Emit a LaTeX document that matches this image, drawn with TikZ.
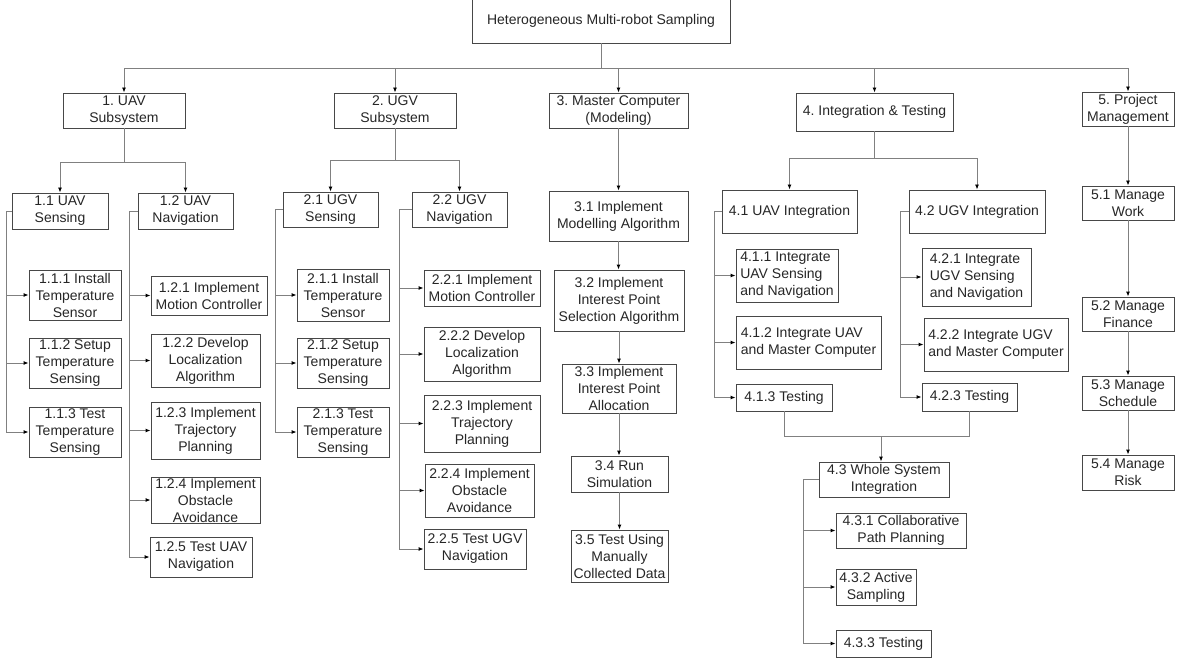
\documentclass[tikz,border=0pt]{standalone}
\usepackage{fontspec}
\setmainfont{Liberation Sans}
\usetikzlibrary{arrows.meta}
\frenchspacing
\newcommand\wbox[7][]{%
  \pgfmathsetmacro\cxx{(#3+#5)/2}\pgfmathsetmacro\cyy{(#4+#6)/2}%
  \pgfmathsetmacro\ww{#5-#3}\pgfmathsetmacro\hh{#6-#4}%
  \node[box,minimum width=\ww pt,minimum height=\hh pt,#1] (#2) at (\cxx,\cyy) {#7};}
\begin{document}
\begin{tikzpicture}[x=1pt,y=-1pt,
  box/.style={draw=black!72,line width=0.9pt,rectangle,inner sep=0pt,align=center,
    text=black!85,font=\fontsize{14}{17}\selectfont\frenchspacing},
  ln/.style={draw=black!50,line width=0.9pt},
  arr/.style={ln,-{Latex[length=5pt,width=4pt,color=black]}}]
\useasboundingbox (0,0) rectangle (1177,660);
% level 0/1
\wbox{root}{472}{-2}{730}{43}{Heterogeneous Multi-robot Sampling}
\wbox{n1}{63}{93}{185}{128}{1. UAV\\Subsystem}
\wbox{n2}{334}{93}{456}{128}{2. UGV\\Subsystem}
\wbox{n3}{549}{93}{688}{128}{3. Master Computer\\(Modeling)}
\wbox{n4}{796}{93}{953}{131}{4. Integration \& Testing}
\wbox{n5}{1082}{92}{1174}{126}{5. Project\\Management}
% UAV
\wbox{n11}{12}{193}{108}{229}{1.1 UAV\\Sensing}
\wbox{n12}{138}{193}{233}{229}{1.2 UAV\\Navigation}
\wbox{n111}{29}{270}{121}{320}{1.1.1 Install\\Temperature\\Sensor}
\wbox{n112}{29}{338}{121}{388}{1.1.2 Setup\\Temperature\\Sensing}
\wbox{n113}{29}{407}{121}{457}{1.1.3 Test\\Temperature\\Sensing}
\wbox{n121}{151}{276}{267}{315}{1.2.1 Implement\\Motion Controller}
\wbox{n122}{151}{334}{260}{387}{1.2.2 Develop\\Localization\\Algorithm}
\wbox{n123}{151}{402}{260}{459}{1.2.3 Implement\\Trajectory\\Planning}
\wbox{n124}{151}{477}{260}{523}{1.2.4 Implement\\Obstacle\\Avoidance}
\wbox{n125}{150}{537}{252}{577}{1.2.5 Test UAV\\Navigation}
% UGV
\wbox{n21}{283}{192}{378}{227}{2.1 UGV\\Sensing}
\wbox{n22}{412}{192}{507}{227}{2.2 UGV\\Navigation}
\wbox{n211}{297}{269}{389}{321}{2.1.1 Install\\Temperature\\Sensor}
\wbox{n212}{297}{338}{389}{388}{2.1.2 Setup\\Temperature\\Sensing}
\wbox{n213}{297}{407}{389}{457}{2.1.3 Test\\Temperature\\Sensing}
\wbox{n221}{424}{270}{540}{306}{2.2.1 Implement\\Motion Controller}
\wbox{n222}{424}{327}{540}{381}{2.2.2 Develop\\Localization\\Algorithm}
\wbox{n223}{424}{395}{540}{452}{2.2.3 Implement\\Trajectory\\Planning}
\wbox{n224}{425}{464}{534}{517}{2.2.4 Implement\\Obstacle\\Avoidance}
\wbox{n225}{424}{529}{526}{569}{2.2.5 Test UGV\\Navigation}
% Master
\wbox{n31}{549}{191}{688}{241}{3.1 Implement\\Modelling Algorithm}
\wbox{n32}{554}{270}{684}{331}{3.2 Implement\\Interest Point\\Selection Algorithm}
\wbox{n33}{562}{364}{676}{413}{3.3 Implement\\Interest Point\\Allocation}
\wbox{n34}{571}{456}{668}{492}{3.4 Run\\Simulation}
\wbox{n35}{571}{530}{668}{582}{3.5 Test Using\\Manually\\Collected Data}
% Integration
\wbox{n41}{722}{190}{857}{233}{4.1 UAV Integration}
\wbox{n42}{909}{190}{1045}{233}{4.2 UGV Integration}
\wbox[align=left]{n411}{736}{249}{838}{302}{4.1.1 Integrate\\UAV Sensing\\and Navigation}
\wbox[align=left]{n412}{736}{316}{881}{369}{4.1.2 Integrate UAV\\and Master Computer}
\wbox{n413}{736}{384}{832}{411}{4.1.3 Testing}
\wbox[align=left]{n421}{922}{248}{1031}{306}{4.2.1 Integrate\\UGV Sensing\\and Navigation}
\wbox[align=left]{n422}{924}{318}{1068}{371}{4.2.2 Integrate UGV\\and Master Computer}
\wbox{n423}{922}{383}{1017}{411}{4.2.3 Testing}
\wbox{n43}{819}{462}{949}{497}{4.3 Whole System\\Integration}
\wbox{n431}{836}{513}{966}{548}{4.3.1 Collaborative\\Path Planning}
\wbox{n432}{836}{569}{916}{605}{4.3.2 Active\\Sampling}
\wbox{n433}{836}{630}{931}{657}{4.3.3 Testing}
% Project management
\wbox{n51}{1082}{186}{1174}{220}{5.1 Manage\\Work}
\wbox{n52}{1082}{297}{1174}{331}{5.2 Manage\\Finance}
\wbox{n53}{1082}{376}{1174}{410}{5.3 Manage\\Schedule}
\wbox{n54}{1082}{455}{1174}{490}{5.4 Manage\\Risk}
% ---- connectors
\coordinate (j0) at (root.south |- 0,68);
\draw[ln] (root.south) -- (j0);
\foreach \t in {n1,n2,n3,n4,n5}{\draw[arr] (j0) -| (\t.north);}
% UAV
\coordinate (j1) at (n1.south |- 0,162);
\draw[ln] (n1.south) -- (j1);
\draw[arr] (j1) -| (n11.north);
\draw[arr] (j1) -| (n12.north);
\foreach \t in {n111,n112,n113}{\draw[arr] (n11.west) -- ++(-5,0) |- (\t.west);}
\foreach \t in {n121,n122,n123,n124,n125}{\draw[arr] (n12.west) -- ++(-8,0) |- (\t.west);}
% UGV
\coordinate (j2) at (n2.south |- 0,160);
\draw[ln] (n2.south) -- (j2);
\draw[arr] (j2) -| (n21.north);
\draw[arr] (j2) -| (n22.north);
\foreach \t in {n211,n212,n213}{\draw[arr] (n21.west) -- ++(-7,0) |- (\t.west);}
\foreach \t in {n221,n222,n223,n224,n225}{\draw[arr] (n22.west) -- ++(-12,0) |- (\t.west);}
% Master
\draw[arr] (n3.south) -- (n3.south |- n31.north);
\draw[arr] (n31.south) -- (n31.south |- n32.north);
\draw[arr] (n32.south) -- (n32.south |- n33.north);
\draw[arr] (n33.south) -- (n33.south |- n34.north);
\draw[arr] (n34.south) -- (n34.south |- n35.north);
% Integration
\coordinate (j4) at (n4.south |- 0,158);
\draw[ln] (n4.south) -- (j4);
\draw[arr] (j4) -| (n41.north);
\draw[arr] (j4) -| (n42.north);
\foreach \t in {n411,n412,n413}{\draw[arr] (n41.west) -- ++(-7,0) |- (\t.west);}
\foreach \t in {n421,n422,n423}{\draw[arr] (n42.west) -- ++(-8,0) |- (\t.west);}
\draw[ln] (n413.south) -- ++(0,25) -| (n423.south);
\coordinate (j5) at (881,436);
\draw[arr] (j5) -- (j5 |- n43.north);
\foreach \t in {n431,n432,n433}{\draw[arr] (n43.west) -- ++(-15,0) |- (\t.west);}
% Project management
\draw[arr] (n5.south) -- (n51.north);
\draw[arr] (n51.south) -- (n52.north);
\draw[arr] (n52.south) -- (n53.north);
\draw[arr] (n53.south) -- (n54.north);
\end{tikzpicture}
\end{document}
